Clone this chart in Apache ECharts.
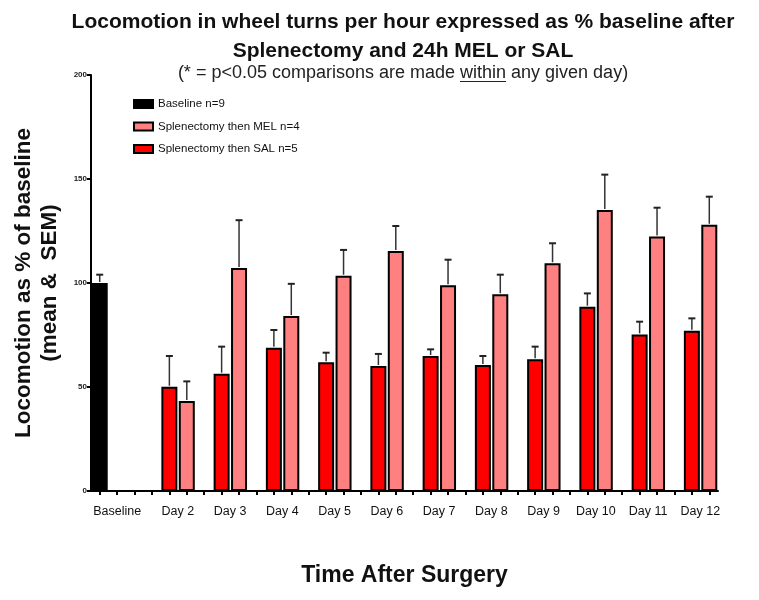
<!DOCTYPE html>
<html>
<head>
<meta charset="utf-8">
<script src="https://cdn.jsdelivr.net/npm/echarts@6/dist/echarts.min.js"></script>
<style>html,body{margin:0;padding:0;background:#fff;}#c{width:759px;height:600px;}</style>
</head>
<body>
<div id="c"></div>
<script>
// ---- data ----
const categories = ['Baseline','Day 2','Day 3','Day 4','Day 5','Day 6','Day 7','Day 8','Day 9','Day 10','Day 11','Day 12'];
const seriesNames = ['Baseline n=9','Splenectomy then MEL n=4','Splenectomy then SAL n=5'];
const baselineMean = [100];
const baselineSem = [4];
const melMean = [43.3,107.2,84.1,103.5,115.4,98.9,94.6,109.5,135.1,122.3,128.0];
const melSem  = [9.4,23.0,15.5,12.4,12.0,12.3,9.4,9.6,17.0,13.9,13.5];
const salMean = [50.1,56.4,68.9,61.9,60.1,64.9,60.6,63.3,88.6,75.3,77.1];
const salSem  = [14.8,13.0,8.5,4.6,5.8,3.2,4.3,6.1,6.4,6.1,5.9];
const yTicks = [0,50,100,150,200];
const titleLines = ['Locomotion in wheel turns per hour expressed as % baseline after','Splenectomy and 24h MEL or SAL'];
const subPre = '(* = p<0.05 comparisons are made ';
const subU = 'within';
const subPost = ' any given day)';

// ---- slot layout (GraphPad-like: one slot per bar, gap slot between days) ----
const nSlots = 4 + 3*(categories.length-1) - 1; // 36
const slots = Array.from({length:nSlots},(_,i)=>'s'+i);
const labelAt = {};
labelAt[1] = {text:categories[0], shift:false};
const blackData = new Array(nSlots).fill(null);
const melData = new Array(nSlots).fill(null);
const salData = new Array(nSlots).fill(null);
const errData = [];
blackData[0] = baselineMean[0];
errData.push([0, baselineMean[0], baselineMean[0]+baselineSem[0]]);
for (let i=0;i<melMean.length;i++){
  const r = 4+3*i, p = 5+3*i;
  salData[r] = salMean[i];
  melData[p] = melMean[i];
  errData.push([r, salMean[i], salMean[i]+salSem[i]]);
  errData.push([p, melMean[i], melMean[i]+melSem[i]]);
  labelAt[r] = {text:categories[i+1], shift:true};
}

const FONT = "'Liberation Sans', Arial, sans-serif";
const TCX = 403;            // title centre
const SUB_FS = 18;
// measure subtitle pieces for the underline under "within"
const mctx = document.createElement('canvas').getContext('2d');
mctx.font = SUB_FS + 'px ' + FONT;
const wPre = mctx.measureText(subPre).width, wU = mctx.measureText(subU).width, wAll = mctx.measureText(subPre+subU+subPost).width;
const subLeft = TCX - wAll/2;

const chart = echarts.init(document.getElementById('c'), null, {renderer:'canvas'});
const barStyle = c => ({color:c, borderColor:'#000', borderWidth:2});

chart.setOption({
  animation:false,
  backgroundColor:'#fff',
  textStyle:{fontFamily:FONT},
  legend:{
    data:seriesNames, orient:'vertical', left:128, top:93,
    itemWidth:19, itemHeight:8, itemGap:10.5,
    textStyle:{fontFamily:FONT, fontSize:11.5, color:'#111'},
    icon:'rect'
  },
  grid:{left:91, right:41, top:75, bottom:109, containLabel:false},
  xAxis:{
    type:'category', data:slots, boundaryGap:true,
    axisLine:{lineStyle:{color:'#000', width:2}},
    axisTick:{show:true, alignWithLabel:true, interval:0, length:4, lineStyle:{color:'#000', width:2}},
    axisLabel:{
      interval:0, margin:14, fontSize:12.5, color:'#111', fontFamily:FONT,
      formatter:(v,idx)=>{ const l=labelAt[idx]; if(!l) return ''; return l.shift ? '{d|'+l.text+'}' : '{b|'+l.text+'}'; },
      rich:{d:{fontSize:12.5, fontFamily:FONT, color:'#111', padding:[0,0,0,17]}, b:{fontSize:12.5, fontFamily:FONT, color:'#111'}}
    },
    name:'Time After Surgery', nameLocation:'middle', nameGap:73,
    nameTextStyle:{fontFamily:FONT, fontSize:23, fontWeight:'bold', color:'#111'}
  },
  yAxis:{
    type:'value', min:yTicks[0], max:yTicks[yTicks.length-1], interval:50,
    axisLine:{show:true, lineStyle:{color:'#000', width:2}},
    axisTick:{show:true, length:4, lineStyle:{color:'#000', width:2}},
    splitLine:{show:false},
    axisLabel:{fontSize:8, fontWeight:'bold', color:'#222', margin:4, fontFamily:FONT},
    name:'Locomotion as % of baseline\n(mean &  SEM)', nameLocation:'middle', nameGap:27, nameRotate:90,
    nameTextStyle:{fontFamily:FONT, fontSize:22.5, fontWeight:'bold', color:'#111', lineHeight:26}
  },
  series:[
    {name:seriesNames[0], type:'bar', data:blackData, barWidth:16, barGap:'-100%', itemStyle:barStyle('#000')},
    {name:seriesNames[1], type:'bar', data:melData, barWidth:16, barGap:'-100%', itemStyle:barStyle('#FF8080')},
    {name:seriesNames[2], type:'bar', data:salData, barWidth:16, barGap:'-100%', itemStyle:barStyle('#FF0000')},
    {name:'err', type:'custom', data:errData, z:5,
     renderItem:(params, api)=>{
       const x = api.value(0);
       const lo = api.coord([x, api.value(1)]);
       const hi = api.coord([x, api.value(2)]);
       const hw = 3.5;
       return {type:'group', children:[
         {type:'line', shape:{x1:lo[0], y1:lo[1]-1, x2:hi[0], y2:hi[1]}, style:{stroke:'#333', lineWidth:1.5}},
         {type:'line', shape:{x1:hi[0]-hw, y1:hi[1], x2:hi[0]+hw, y2:hi[1]}, style:{stroke:'#222', lineWidth:2}}
       ]};
     }}
  ],
  graphic:[
    {type:'text', x:TCX, y:22, style:{text:titleLines[0], fill:'#111', font:'bold 21px '+FONT, textAlign:'center', textVerticalAlign:'middle'}},
    {type:'text', x:TCX, y:51, style:{text:titleLines[1], fill:'#111', font:'bold 21px '+FONT, textAlign:'center', textVerticalAlign:'middle'}},
    {type:'text', x:TCX, y:73, style:{text:subPre+subU+subPost, fill:'#222', font:SUB_FS+'px '+FONT, textAlign:'center', textVerticalAlign:'middle'}},
    {type:'line', shape:{x1:subLeft+wPre, y1:81.5, x2:subLeft+wPre+wU, y2:81.5}, style:{stroke:'#222', lineWidth:1}}
  ]
});
</script>
</body>
</html>
